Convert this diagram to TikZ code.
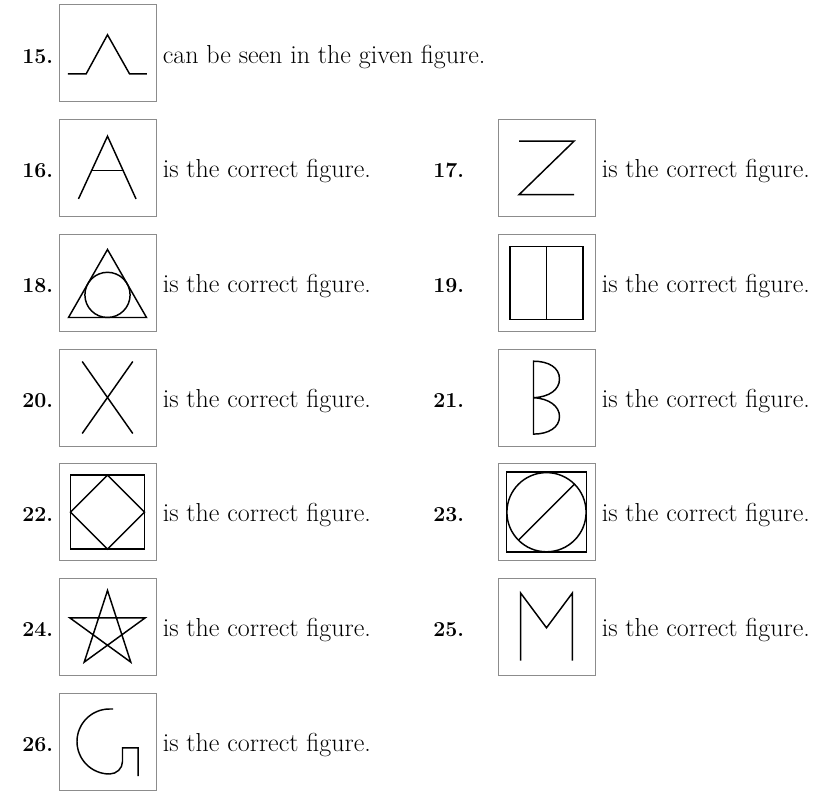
\documentclass[tikz,border=0pt]{standalone}
\usepackage{fontspec}
\usetikzlibrary{positioning}
\tikzset{fig/.style={draw=black!45, line width=0.75pt, minimum size=72.75pt, inner sep=0pt}}
\tikzset{shp/.style={draw=black, line width=1.1pt}}
\tikzset{num/.style={font=\fontsize{16}{20}\selectfont\bfseries, anchor=base west, inner sep=0pt}}
\tikzset{txt/.style={font=\fontsize{19.5}{23}\selectfont, anchor=base west, inner sep=0pt}}

\begin{document}
\begin{tikzpicture}[x=0.75pt, y=0.75pt]
  \useasboundingbox (0,0) rectangle (818,-792);

  % boxes
  \node[fig] (b15) at (107.5,-53.5) {};
  \node[fig] (b16) at (107.5,-168.2) {};
  \node[fig] (b17) at (546.5,-168.2) {};
  \node[fig] (b18) at (107.5,-282.8) {};
  \node[fig] (b19) at (546.5,-282.8) {};
  \node[fig] (b20) at (107.5,-397.5) {};
  \node[fig] (b21) at (546.5,-397.5) {};
  \node[fig] (b22) at (107.5,-512.2) {};
  \node[fig] (b23) at (546.5,-512.2) {};
  \node[fig] (b24) at (107.5,-626.8) {};
  \node[fig] (b25) at (546.5,-626.8) {};
  \node[fig] (b26) at (107.5,-741.5) {};

  % numbers
  \node[num] (n15) at (22,-63.2) {15.};
  \node[num] (n16) at (22,-177.9) {16.};
  \node[num] (n17) at (433,-177.9) {17.};
  \node[num] (n18) at (22,-292.5) {18.};
  \node[num] (n19) at (433,-292.5) {19.};
  \node[num] (n20) at (22,-407.2) {20.};
  \node[num] (n21) at (433,-407.2) {21.};
  \node[num] (n22) at (22,-521.9) {22.};
  \node[num] (n23) at (433,-521.9) {23.};
  \node[num] (n24) at (22,-636.5) {24.};
  \node[num] (n25) at (433,-636.5) {25.};
  \node[num] (n26) at (22,-751.2) {26.};

  % texts
  \node[txt] (t15) at ([xshift=4.5pt,yshift=-7.3pt]b15.east) {can be seen in the given figure.};
  \node[txt] (t16) at ([xshift=4.5pt,yshift=-7.3pt]b16.east) {is the correct figure.};
  \node[txt] (t17) at ([xshift=4.5pt,yshift=-7.3pt]b17.east) {is the correct figure.};
  \node[txt] (t18) at ([xshift=4.5pt,yshift=-7.3pt]b18.east) {is the correct figure.};
  \node[txt] (t19) at ([xshift=4.5pt,yshift=-7.3pt]b19.east) {is the correct figure.};
  \node[txt] (t20) at ([xshift=4.5pt,yshift=-7.3pt]b20.east) {is the correct figure.};
  \node[txt] (t21) at ([xshift=4.5pt,yshift=-7.3pt]b21.east) {is the correct figure.};
  \node[txt] (t22) at ([xshift=4.5pt,yshift=-7.3pt]b22.east) {is the correct figure.};
  \node[txt] (t23) at ([xshift=4.5pt,yshift=-7.3pt]b23.east) {is the correct figure.};
  \node[txt] (t24) at ([xshift=4.5pt,yshift=-7.3pt]b24.east) {is the correct figure.};
  \node[txt] (t25) at ([xshift=4.5pt,yshift=-7.3pt]b25.east) {is the correct figure.};
  \node[txt] (t26) at ([xshift=4.5pt,yshift=-7.3pt]b26.east) {is the correct figure.};

  % figures inside the boxes
  \begin{scope}[shift={(b15.center)}]
    \draw[shp] (-39.7,-20.3) -- (-21.3,-20.3) -- (0,18.7) -- (22,-20.3) -- (39.3,-20.3);
  \end{scope}
  \begin{scope}[shift={(b16.center)}]
    \draw[shp] (-29,-30.7) -- (0,32) -- (28.5,-30.7);
    \draw[shp] (-15.9,-2.3) -- (15.6,-2.3);
  \end{scope}
  \begin{scope}[shift={(b17.center)}]
    \draw[shp] (-27.5,27) -- (27.5,27) -- (-27.5,-26.5) -- (27.5,-26.5);
  \end{scope}
  \begin{scope}[shift={(b18.center)}]
    \draw[shp] (0,33.3) -- (-39,-34.7) -- (39,-34.7) -- cycle;
    \draw[shp] (0,-12.1) circle[radius=22.6];
  \end{scope}
  \begin{scope}[shift={(b19.center)}]
    \draw[shp] (-36.5,-36.8) rectangle (36.5,36.3);
    \draw[shp] (0,36.3) -- (0,-36.8);
  \end{scope}
  \begin{scope}[shift={(b20.center)}]
    \draw[shp] (-25.3,36) -- (25.3,-36) (25.3,36) -- (-25.3,-36);
  \end{scope}
  \begin{scope}[shift={(b21.center)}]
    \draw[shp] (-13,36.3) .. controls (2,36.3) and (13,30) .. (13,18.5)
      .. controls (13,8) and (3,0.5) .. (-13,-0.2)
      .. controls (3,-1) and (13,-9) .. (13,-19)
      .. controls (13,-30) and (2,-36.6) .. (-13,-36.6) -- cycle;
  \end{scope}
  \begin{scope}[shift={(b22.center)}]
    \draw[shp] (-37,-37) rectangle (37,37);
    \draw[shp] (0,37) -- (37,0) -- (0,-37) -- (-37,0) -- cycle;
  \end{scope}
  \begin{scope}[shift={(b23.center)}]
    \draw[shp] (-40,-40) rectangle (40,40);
    \draw[shp] (0,0) circle[radius=39.6];
    \draw[shp] (-28,-28) -- (28,28);
  \end{scope}
  \begin{scope}[shift={(b24.center)}]
    \draw[shp, shift={(0,-3.3)}] (90:39.6) -- (234:39.6) -- (18:39.6) -- (162:39.6) -- (306:39.6) -- cycle;
  \end{scope}
  \begin{scope}[shift={(b25.center)}]
    \draw[shp] (-25.8,-33.7) -- (-25.8,33.7) -- (0,-1) -- (25.8,33.7) -- (25.8,-33.7);
  \end{scope}
  \begin{scope}[shift={(b26.center)}]
    \draw[shp] (5.7,32.5) -- (2,32.5) arc[start angle=90, end angle=270, radius=32.5]
      to[out=0, in=-90] (15,-20) -- (15,-6.3) -- (30.7,-6.3) -- (30.7,-34.7);
  \end{scope}
\end{tikzpicture}
\end{document}
